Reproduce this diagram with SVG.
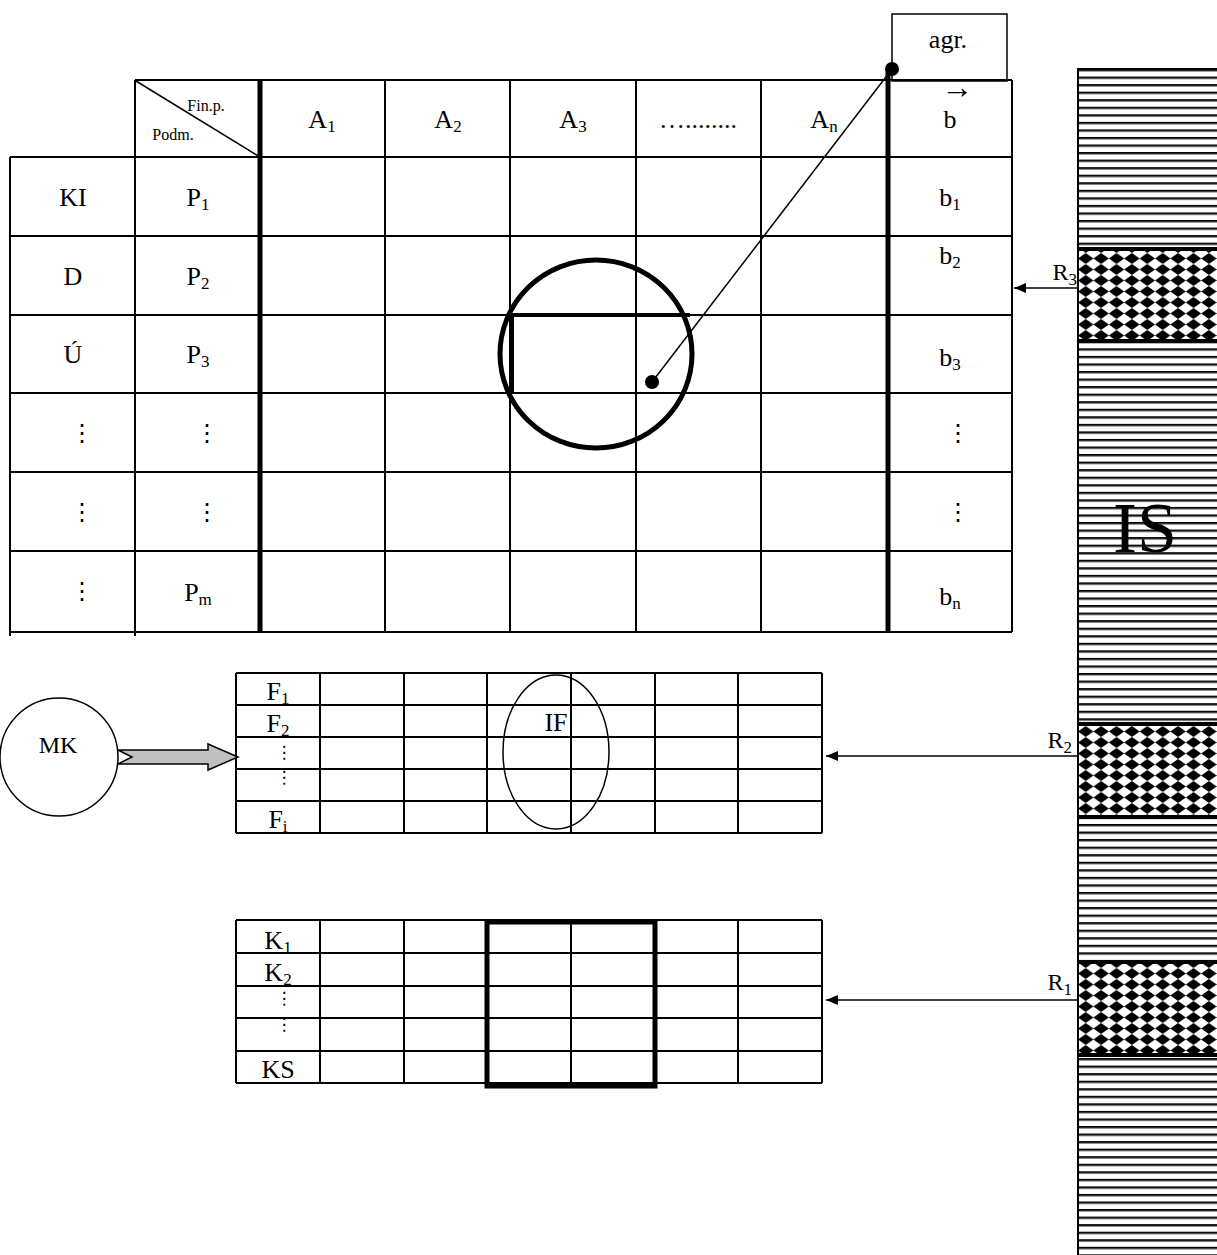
<svg xmlns="http://www.w3.org/2000/svg" width="1217" height="1255" viewBox="0 0 1217 1255">
<defs>
<style>
.t{font-family:"Liberation Serif","Times New Roman",serif;font-size:26px;fill:#000;text-anchor:middle}
.sub{font-size:17px}
.sm{font-size:16px}
.vd{font-family:"DejaVu Serif","DejaVu Sans",serif;font-size:24px;fill:#000;text-anchor:middle}
.ln{stroke:#000;stroke-width:2;fill:none}
.thin{stroke:#000;stroke-width:1.5;fill:none}
.thick{stroke:#000;stroke-width:5;fill:none}
</style>
<pattern id="stripes" patternUnits="userSpaceOnUse" x="0" y="69" width="20" height="7.55">
<rect width="20" height="7.55" fill="#fff"/>
<rect y="0" width="20" height="1.8" fill="#000"/>
<rect y="1.8" width="20" height="1" fill="#888"/>
</pattern>
<pattern id="dia" patternUnits="userSpaceOnUse" x="1078" y="0" width="15.4" height="11">
<rect width="15.4" height="11" fill="#fff"/>
<polygon points="7.7,0 15.4,5.5 7.7,11 0,5.5" fill="#000"/>
</pattern>
<marker id="ah" viewBox="0 0 12 10" refX="12" refY="5" markerWidth="12" markerHeight="10" markerUnits="userSpaceOnUse" orient="auto">
<path d="M0,0 L12,5 L0,10 z" fill="#000"/>
</marker>
</defs>
<rect width="1217" height="1255" fill="#fff"/>

<g id="is-column">
<rect x="1078" y="69" width="145" height="1200" fill="url(#stripes)"/>
<rect x="1079" y="247" width="140" height="96" fill="url(#dia)"/>
<rect x="1079" y="247" width="140" height="4" fill="#000"/>
<rect x="1079" y="339" width="140" height="4" fill="#000"/>
<rect x="1079" y="722" width="140" height="97" fill="url(#dia)"/>
<rect x="1079" y="722" width="140" height="4" fill="#000"/>
<rect x="1079" y="815" width="140" height="4" fill="#000"/>
<rect x="1079" y="960" width="140" height="97" fill="url(#dia)"/>
<rect x="1079" y="960" width="140" height="4" fill="#000"/>
<rect x="1079" y="1053" width="140" height="4" fill="#000"/>
<line class="ln" x1="1078" y1="69" x2="1078" y2="1255"/>
<line class="ln" x1="1077" y1="69" x2="1217" y2="69"/>
<text class="t" x="1145" y="552" style="font-size:72px">IS</text>
<text class="t" x="1077" y="280" style="text-anchor:end;font-size:24px">R<tspan class="sub" dy="5">3</tspan></text>
<text class="t" x="1072" y="748" style="text-anchor:end;font-size:24px">R<tspan class="sub" dy="5">2</tspan></text>
<text class="t" x="1072" y="990" style="text-anchor:end;font-size:24px">R<tspan class="sub" dy="5">1</tspan></text>
</g>

<g id="main-table">
<line class="ln" x1="135" y1="80" x2="1012" y2="80"/>
<line class="ln" x1="10" y1="157" x2="1012" y2="157"/>
<line class="ln" x1="10" y1="236" x2="1012" y2="236"/>
<line class="ln" x1="10" y1="315" x2="1012" y2="315"/>
<line class="ln" x1="10" y1="393" x2="1012" y2="393"/>
<line class="ln" x1="10" y1="472" x2="1012" y2="472"/>
<line class="ln" x1="10" y1="551" x2="1012" y2="551"/>
<line class="ln" x1="10" y1="632" x2="1012" y2="632"/>
<line class="ln" x1="10" y1="157" x2="10" y2="636"/>
<line class="ln" x1="135" y1="80" x2="135" y2="636"/>
<line class="ln" x1="385" y1="80" x2="385" y2="632"/>
<line class="ln" x1="510" y1="80" x2="510" y2="632"/>
<line class="ln" x1="636" y1="80" x2="636" y2="632"/>
<line class="ln" x1="761" y1="80" x2="761" y2="632"/>
<line class="ln" x1="1012" y1="80" x2="1012" y2="632"/>
<line class="thick" x1="260" y1="80" x2="260" y2="632"/>
<line class="thick" x1="888" y1="72" x2="888" y2="632"/>
<line class="thin" x1="136" y1="81" x2="260" y2="157"/>
<text class="t sm" x="206" y="111">Fin.p.</text>
<text class="t sm" x="173" y="140">Podm.</text>
<text class="t" x="322" y="128">A<tspan class="sub" dy="4">1</tspan></text>
<text class="t" x="448" y="128">A<tspan class="sub" dy="4">2</tspan></text>
<text class="t" x="573" y="128">A<tspan class="sub" dy="4">3</tspan></text>
<text class="t" x="698" y="128">…........</text>
<text class="t" x="824" y="128">A<tspan class="sub" dy="4">n</tspan></text>
<text class="t" x="957" y="98" style="font-size:32px">→</text>
<text class="t" x="950" y="128">b</text>
<text class="t" x="73" y="206">KI</text>
<text class="t" x="198" y="206">P<tspan class="sub" dy="4">1</tspan></text>
<text class="t" x="950" y="206">b<tspan class="sub" dy="4">1</tspan></text>
<text class="t" x="73" y="285">D</text>
<text class="t" x="198" y="285">P<tspan class="sub" dy="4">2</tspan></text>
<text class="t" x="950" y="264">b<tspan class="sub" dy="4">2</tspan></text>
<text class="t" x="73" y="363">Ú</text>
<text class="t" x="198" y="363">P<tspan class="sub" dy="4">3</tspan></text>
<text class="t" x="950" y="366">b<tspan class="sub" dy="4">3</tspan></text>
<text class="vd" x="82" y="441">⋮</text>
<text class="vd" x="207" y="441">⋮</text>
<text class="vd" x="958" y="441">⋮</text>
<text class="vd" x="82" y="520">⋮</text>
<text class="vd" x="207" y="520">⋮</text>
<text class="vd" x="958" y="520">⋮</text>
<text class="vd" x="82" y="599">⋮</text>
<text class="t" x="198" y="601">P<tspan class="sub" dy="4">m</tspan></text>
<text class="t" x="950" y="605">b<tspan class="sub" dy="4">n</tspan></text>
<ellipse class="thick" cx="596" cy="354" rx="96" ry="94"/>
<path d="M512,393 V315 H690" stroke="#000" stroke-width="4" fill="none"/>
</g>

<g id="agr">
<rect class="thin" x="892" y="14" width="115" height="67" fill="#fff"/>
<text class="t" x="948" y="48">agr.</text>
</g>

<g id="f-table">
<line class="ln" x1="236" y1="673" x2="822" y2="673"/>
<line class="ln" x1="236" y1="705" x2="822" y2="705"/>
<line class="ln" x1="236" y1="737" x2="822" y2="737"/>
<line class="ln" x1="236" y1="769" x2="822" y2="769"/>
<line class="ln" x1="236" y1="801" x2="822" y2="801"/>
<line class="ln" x1="236" y1="833" x2="822" y2="833"/>
<line class="ln" x1="236" y1="673" x2="236" y2="833"/>
<line class="ln" x1="320" y1="673" x2="320" y2="833"/>
<line class="ln" x1="404" y1="673" x2="404" y2="833"/>
<line class="ln" x1="487" y1="673" x2="487" y2="833"/>
<line class="ln" x1="571" y1="673" x2="571" y2="833"/>
<line class="ln" x1="655" y1="673" x2="655" y2="833"/>
<line class="ln" x1="738" y1="673" x2="738" y2="833"/>
<line class="ln" x1="822" y1="673" x2="822" y2="833"/>
<text class="t" x="278" y="700">F<tspan class="sub" dy="4">1</tspan></text>
<text class="t" x="278" y="732">F<tspan class="sub" dy="4">2</tspan></text>
<text class="vd" x="284" y="758" style="font-size:17px">⋮</text>
<text class="vd" x="284" y="783" style="font-size:17px">⋮</text>
<text class="t" x="278" y="828">F<tspan class="sub" dy="4">i</tspan></text>
<ellipse class="thin" cx="556" cy="752" rx="53" ry="77"/>
<text class="t" x="556" y="731">IF</text>
</g>

<g id="k-table">
<line class="ln" x1="236" y1="920" x2="822" y2="920"/>
<line class="ln" x1="236" y1="953" x2="822" y2="953"/>
<line class="ln" x1="236" y1="986" x2="822" y2="986"/>
<line class="ln" x1="236" y1="1018" x2="822" y2="1018"/>
<line class="ln" x1="236" y1="1051" x2="822" y2="1051"/>
<line class="ln" x1="236" y1="1083" x2="822" y2="1083"/>
<line class="ln" x1="236" y1="920" x2="236" y2="1083"/>
<line class="ln" x1="320" y1="920" x2="320" y2="1083"/>
<line class="ln" x1="404" y1="920" x2="404" y2="1083"/>
<line class="ln" x1="487" y1="920" x2="487" y2="1083"/>
<line class="ln" x1="571" y1="920" x2="571" y2="1083"/>
<line class="ln" x1="655" y1="920" x2="655" y2="1083"/>
<line class="ln" x1="738" y1="920" x2="738" y2="1083"/>
<line class="ln" x1="822" y1="920" x2="822" y2="1083"/>
<text class="t" x="278" y="949">K<tspan class="sub" dy="4">1</tspan></text>
<text class="t" x="278" y="981">K<tspan class="sub" dy="4">2</tspan></text>
<text class="vd" x="284" y="1004" style="font-size:17px">⋮</text>
<text class="vd" x="284" y="1030" style="font-size:17px">⋮</text>
<text class="t" x="278" y="1078">KS</text>
<rect class="thick" x="487" y="922" width="168" height="164"/>
</g>

<g id="mk">
<circle class="thin" cx="59" cy="757" r="59" fill="#fff"/>
<text class="t" x="58" y="753" style="font-size:24px">MK</text>
</g>

<g id="connectors">
<polygon points="118,750 208,750 208,744 238,757 208,770 208,764 118,764 132,757" fill="#c0c0c0" stroke="#000" stroke-width="1.5" stroke-linejoin="miter"/>
<line class="thin" x1="892" y1="69" x2="652" y2="382"/>
<circle cx="892" cy="69" r="7" fill="#000"/>
<circle cx="652" cy="382" r="7" fill="#000"/>
<line class="thin" x1="1078" y1="288" x2="1014" y2="288" marker-end="url(#ah)"/>
<line class="thin" x1="1078" y1="756" x2="826" y2="756" marker-end="url(#ah)"/>
<line class="thin" x1="1078" y1="1000" x2="826" y2="1000" marker-end="url(#ah)"/>
</g>
</svg>
